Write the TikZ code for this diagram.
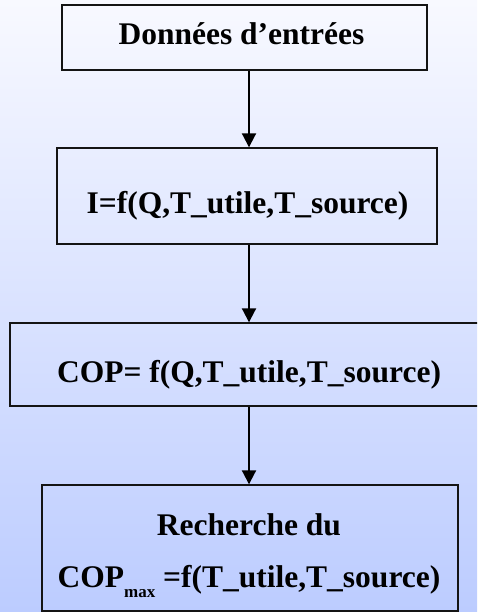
\documentclass[tikz,border=0pt]{standalone}
\usepackage{fontspec}
\setmainfont{Liberation Serif}
\usetikzlibrary{arrows.meta}
\definecolor{bgtop}{RGB}{248,249,255}
\definecolor{bgbottom}{RGB}{188,204,255}
\definecolor{edge}{RGB}{20,20,20}
\tikzset{
  stepbox/.style={draw=edge, line width=1.4pt, rectangle, inner sep=0pt},
  steptext/.style={anchor=base, inner sep=0pt, font=\fontsize{31.5}{38}\bfseries},
  flow/.style={draw=black, line width=2pt, -{Triangle[width=14pt,length=14pt]}}
}
\begin{document}
\begin{tikzpicture}[x=1pt,y=-1pt]
  \useasboundingbox (0,0) rectangle (477,612);
  \clip (0,0) rectangle (477,612);
  % soft vertical background gradient
  \shade[top color=bgtop, bottom color=bgbottom] (0,0) rectangle (477,612);

  % process boxes
  \node[stepbox, minimum width=365pt, minimum height=65pt]  (b1) at (244.5,37.5) {};
  \node[stepbox, minimum width=380pt, minimum height=96pt]  (b2) at (247,196) {};
  \node[stepbox, minimum width=474pt, minimum height=83pt]  (b3) at (247,364.5) {};
  \node[stepbox, minimum width=416pt, minimum height=126pt] (b4) at (250,548) {};

  % box labels
  \node[steptext] (t1)  at (241.5,45)  {Données d’entrées};
  \node[steptext] (t2)  at (247.5,213) {I=f(Q,T\_utile,T\_source)};
  \node[steptext] (t3)  at (249,382)   {COP= f(Q,T\_utile,T\_source)};
  \node[steptext] (t4a) at (249,535)   {Recherche du};
  \node[steptext] (t4b) at (249,587)   {COP\raisebox{-10pt}{\fontsize{17}{20}\selectfont max} =f(T\_utile,T\_source)};

  % connectors along the common axis
  \coordinate (ax) at (249,0);
  \draw[flow] (b1.south -| ax) -- (b2.north -| ax);
  \draw[flow] (b2.south -| ax) -- (b3.north -| ax);
  \draw[flow] (b3.south -| ax) -- (b4.north -| ax);
\end{tikzpicture}
\end{document}
